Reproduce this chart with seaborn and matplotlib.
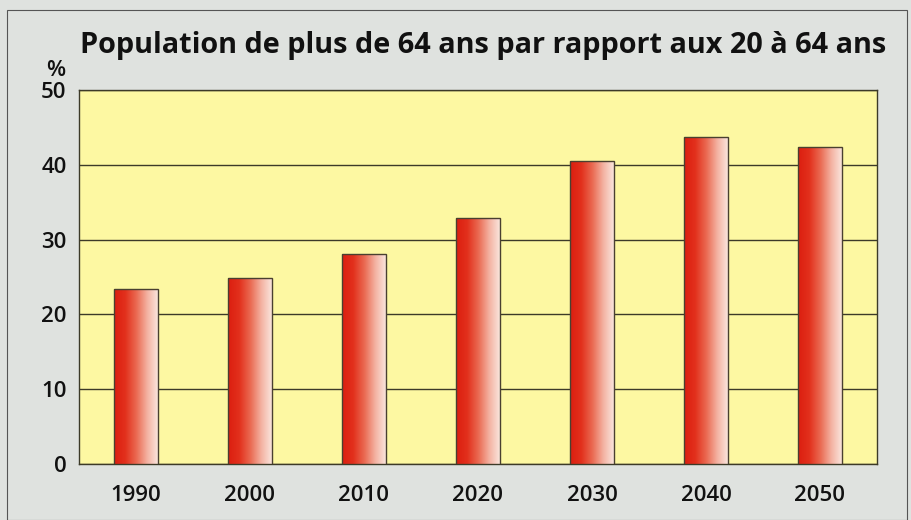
import numpy as np
import pandas as pd
import matplotlib
matplotlib.use('Agg')
import matplotlib.pyplot as plt
import seaborn as sns
from matplotlib.colors import LinearSegmentedColormap

years = ['1990', '2000', '2010', '2020', '2030', '2040', '2050']
ratio = [23.4, 24.9, 28.1, 32.9, 40.5, 43.7, 42.4]
title = 'Population de plus de 64 ans par rapport aux 20 à 64 ans'

sns.set_theme(style='white')
plt.rcParams['font.family'] = ['Open Sans', 'DejaVu Sans']

bg = '#dfe2df'
yellow = '#fdf8a2'
df = pd.DataFrame({'year': years, 'ratio': ratio})

fig = plt.figure(figsize=(9.12, 5.2), dpi=100, facecolor=bg)
ax = fig.add_axes([79/912, 56/520, 798/912, 374/520])
ax.set_facecolor(yellow)

sns.barplot(data=df, x='year', y='ratio', ax=ax, width=0.39,
            color='#e03020', edgecolor='#4a4030', linewidth=1.0, zorder=3)

# horizontal gradient red -> pale pink on each bar
cmap = LinearSegmentedColormap.from_list('bar', ['#dc1e10', '#e2301c', '#ea6a52', '#f4b4a4', '#fbeae2'])
grad = np.linspace(0, 1, 256).reshape(1, -1)
for p in ax.patches:
    x0, y0 = p.get_x(), p.get_y()
    w, h = p.get_width(), p.get_height()
    im = ax.imshow(grad, cmap=cmap, aspect='auto', extent=[x0, x0 + w, y0, y0 + h],
                   zorder=3.5, interpolation='bicubic')
    im.set_clip_path(p)
    p.set_facecolor('none')
    p.set_zorder(4)

ax.set_xlim(-0.5, 6.5)
ax.set_ylim(0, 50)
ax.set_yticks([0, 10, 20, 30, 40, 50])
ax.yaxis.grid(True, color='#3c3a28', linewidth=1.0, zorder=1)
ax.set_axisbelow(True)
for s in ax.spines.values():
    s.set_color('#3c3a28')
    s.set_linewidth(1.0)
ax.set_xlabel('')
ax.set_ylabel('')
ax.tick_params(axis='both', length=0, labelsize=16, colors='#111111')
ax.tick_params(axis='x', pad=15)
ax.tick_params(axis='y', pad=9)
for lab in ax.get_xticklabels() + ax.get_yticklabels():
    lab.set_fontweight('semibold')

fig.text(56/912, 1 - 70/520, '%', ha='center', va='center', fontsize=16,
         fontweight='semibold', color='#111111')
fig.text(80/912, 1 - 45/520, title, ha='left', va='center', fontsize=20.8,
         fontweight='bold', color='#111111')

# outer frame
fig.patches.append(plt.Rectangle((7/912, 0), 900/912, 1 - 10/520, transform=fig.transFigure,
                                 fill=False, edgecolor='#555555', linewidth=0.8))

fig.savefig('out.png', dpi=100, facecolor=bg)
